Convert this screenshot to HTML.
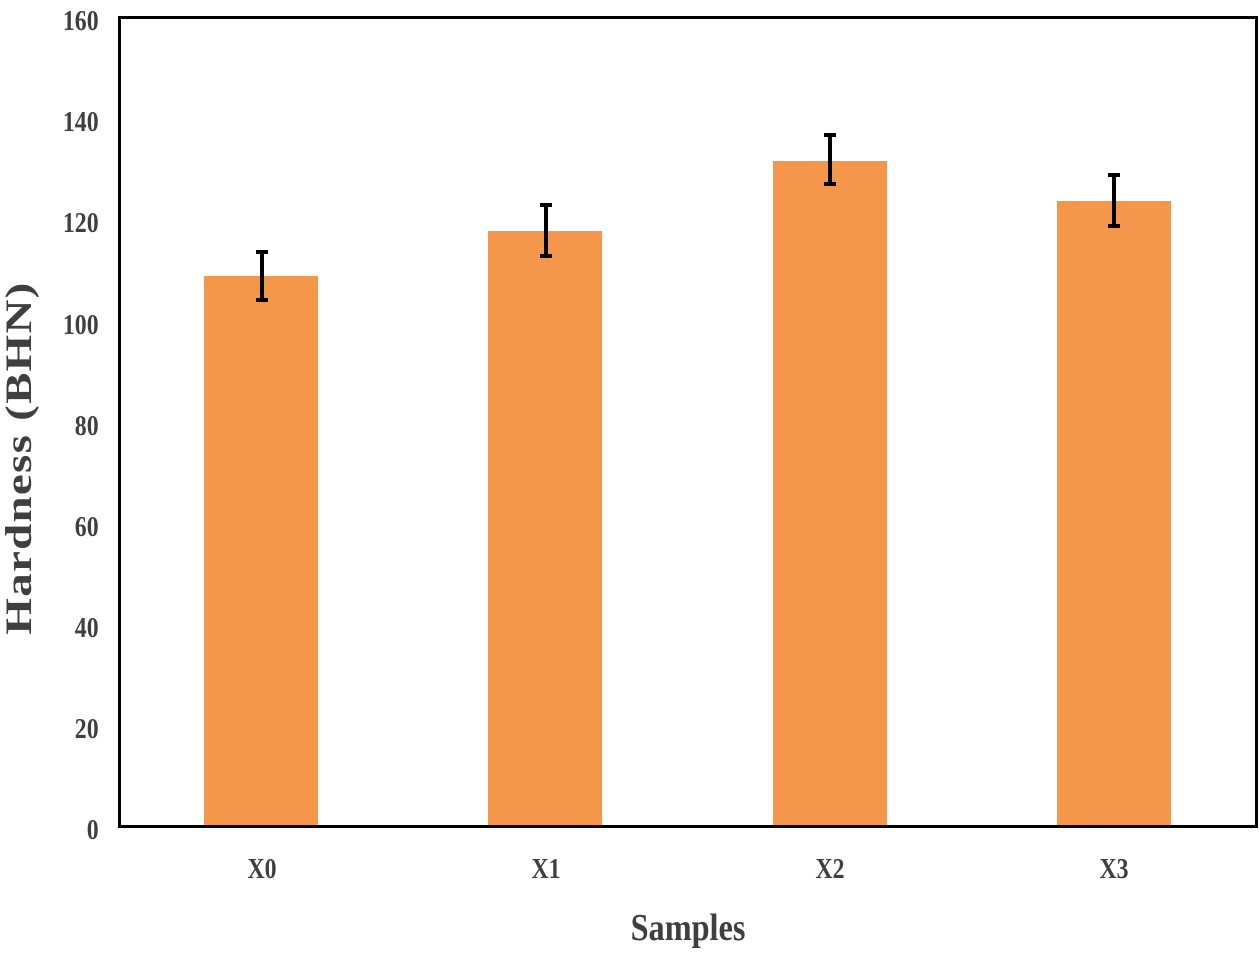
<!DOCTYPE html>
<html><head><style>body{margin:0;background:#fff}svg{display:block}</style></head>
<body>
<svg width="1260" height="953" viewBox="0 0 1260 953" xmlns="http://www.w3.org/2000/svg" font-family="'Liberation Serif',serif" fill="#3f3f3f">
<rect x="0" y="0" width="1260" height="953" fill="#fff"/>
<g fill="#F4974A">
<rect x="204" y="276" width="114" height="550"/>
<rect x="488" y="231" width="114" height="595"/>
<rect x="773" y="161" width="114" height="665"/>
<rect x="1057" y="201" width="114" height="625"/>
</g>
<rect x="119.5" y="17.5" width="1137" height="809" fill="none" stroke="#000" stroke-width="3"/>
<g stroke="#000" stroke-width="4">
<line x1="262" y1="252" x2="262" y2="300"/><line x1="256" y1="252" x2="268" y2="252"/><line x1="256" y1="300" x2="268" y2="300"/>
<line x1="546" y1="205" x2="546" y2="256"/><line x1="540" y1="205" x2="552" y2="205"/><line x1="540" y1="256" x2="552" y2="256"/>
<line x1="830" y1="135" x2="830" y2="184"/><line x1="824" y1="135" x2="836" y2="135"/><line x1="824" y1="184" x2="836" y2="184"/>
<line x1="1114" y1="175" x2="1114" y2="226"/><line x1="1108" y1="175" x2="1120" y2="175"/><line x1="1108" y1="226" x2="1120" y2="226"/>
</g>
<g font-size="28" text-anchor="end" font-weight="bold" transform="scale(0.85,1)">
<text x="116" y="30">160</text>
<text x="116" y="131">140</text>
<text x="116" y="232">120</text>
<text x="116" y="334">100</text>
<text x="116" y="435">80</text>
<text x="116" y="536">60</text>
<text x="116" y="637">40</text>
<text x="116" y="738">20</text>
<text x="116" y="839">0</text>
</g>
<g font-size="28" text-anchor="middle" font-weight="bold">
<text transform="translate(262,878) scale(0.85,1)">X0</text>
<text transform="translate(546,878) scale(0.85,1)">X1</text>
<text transform="translate(830,878) scale(0.85,1)">X2</text>
<text transform="translate(1114,878) scale(0.85,1)">X3</text>
<text transform="translate(688,940) scale(0.85,1)" font-size="38">Samples</text>
<text transform="translate(31,458) rotate(-90) scale(1.27,1)" font-size="37" letter-spacing="1">Hardness (BHN)</text>
</g>
</svg>
</body></html>
